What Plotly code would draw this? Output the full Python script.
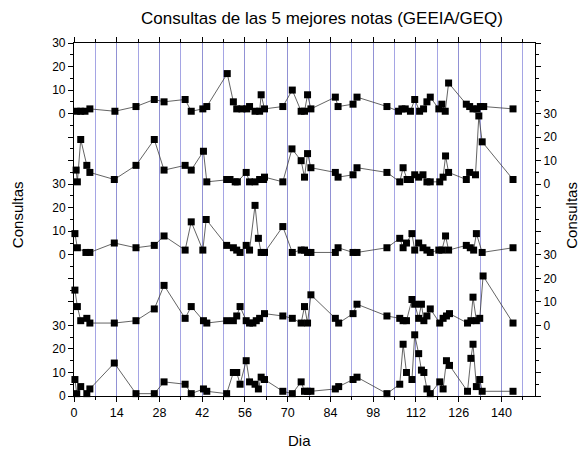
import plotly.graph_objects as go

# ---- data (day, consultas) for the 5 best-grade notes ----
x1 = [0.9, 2.2, 3.6, 5.2, 13.4, 20.3, 26.3, 29.5, 36.4, 38.4, 42.2, 43.5, 50.2, 52.2, 53.3, 55.0, 56.6, 57.5,
      59.3, 60.8, 61.3, 62.4, 68.4, 71.5, 74.4, 75.5, 76.5, 77.6, 85.6, 86.5, 91.4, 92.7, 102.5, 106.3, 107.4,
      108.5, 110.2, 111.6, 113.2, 114.5, 115.6, 116.7, 119.5, 120.5, 121.6, 122.7, 128.5, 129.6, 130.7, 132.0,
      133.1, 134.2, 143.8]
y1 = [1, 1, 1, 2, 1, 3, 6, 5, 6, 1, 2, 3, 17, 5, 2, 2, 2, 3,
      1, 1, 8, 2, 3, 10, 1, 1, 8, 2, 7, 3, 4, 7, 3, 1, 2,
      2, 1, 6, 1, 2, 5, 7, 2, 4, 1, 13, 4, 3, 2, 2,
      3, 3, 2]

x2 = [0.7, 1.1, 2.2, 4.2, 5.2, 13.2, 20.3, 26.3, 29.5, 36.4, 38.4, 42.4, 43.5, 50.0, 51.1, 52.8, 53.5, 56.4,
      57.5, 59.3, 60.8, 62.1, 62.4, 68.4, 71.4, 74.4, 75.5, 76.5, 77.6, 85.6, 86.5, 91.4, 92.7, 102.5, 106.7,
      107.8, 109.1, 110.2, 111.6, 112.9, 114.3, 115.6, 116.7, 119.8, 120.9, 121.7, 122.7, 128.5, 129.6, 131.5,
      132.6, 133.7, 143.8]
y2 = [6, 1, 19, 8, 5, 2, 8, 19, 6, 8, 6, 14, 1, 2, 2, 1, 1, 5,
      1, 1, 2, 2, 3, 1, 15, 10, 3, 13, 7, 5, 3, 4, 7, 5, 1,
      7, 2, 2, 4, 3, 4, 1, 1, 1, 3, 12, 5, 2, 5, 4,
      29, 18, 2]

x3 = [0.3, 1.1, 3.9, 5.2, 13.2, 20.3, 26.3, 29.5, 36.4, 38.4, 42.2, 43.3, 50.0, 52.2, 53.3, 54.4, 56.4, 57.5,
      59.3, 60.4, 61.3, 62.4, 68.4, 71.5, 74.4, 75.5, 76.5, 77.6, 85.6, 86.5, 91.4, 92.7, 102.5, 106.7, 107.8,
      108.9, 110.7, 111.6, 112.9, 114.3, 115.6, 116.7, 119.5, 120.5, 121.7, 122.7, 128.5, 129.8, 130.9, 131.8,
      133.7, 143.8]
y3 = [9, 3, 1, 1, 5, 3, 4, 8, 2, 14, 2, 15, 4, 3, 2, 1, 4, 2,
      21, 7, 1, 1, 12, 1, 2, 2, 1, 1, 1, 3, 1, 1, 3, 7, 3,
      5, 9, 2, 5, 3, 2, 1, 2, 2, 8, 2, 4, 3, 2, 9,
      1, 3]

x4 = [0.3, 1.1, 2.2, 4.2, 5.2, 13.2, 20.3, 26.3, 29.5, 36.4, 38.4, 42.4, 43.5, 50.0, 52.2, 53.3, 54.4, 56.4,
      57.5, 58.6, 59.7, 60.8, 62.4, 68.4, 71.5, 74.4, 75.5, 76.5, 77.6, 85.6, 86.7, 91.4, 92.7, 102.5, 106.7,
      107.8, 108.9, 110.7, 111.6, 112.9, 113.8, 114.6, 115.6, 116.7, 119.8, 120.9, 122.0, 123.0, 128.9, 130.0,
      130.7, 131.8, 132.9, 134.0, 143.8]
y4 = [15, 8, 2, 3, 1, 1, 2, 7, 17, 3, 8, 2, 1, 2, 2, 4, 8, 2,
      1, 1, 2, 3, 5, 4, 3, 1, 8, 1, 13, 3, 1, 5, 9, 4, 3,
      2, 2, 11, 9, 3, 9, 2, 4, 7, 1, 3, 4, 5, 1, 2,
      12, 2, 3, 21, 1]

x5 = [0.3, 0.9, 2.2, 4.2, 5.2, 13.2, 20.3, 26.3, 29.5, 36.4, 38.4, 42.4, 43.5, 50.0, 52.2, 53.3, 54.4, 56.4,
      57.5, 59.3, 60.4, 61.3, 62.4, 68.4, 71.5, 74.4, 75.5, 76.5, 77.6, 85.6, 86.7, 91.4, 92.7, 102.5, 106.7,
      107.8, 108.9, 110.7, 111.6, 112.9, 113.8, 114.6, 115.6, 116.7, 119.8, 120.9, 122.0, 123.0, 128.9, 130.0,
      130.7, 131.8, 132.9, 133.7, 143.8]
y5 = [7, 1, 4, 1, 3, 14, 1, 1, 6, 5, 1, 3, 2, 1, 10, 10, 5, 15,
      6, 5, 3, 8, 7, 2, 1, 6, 2, 2, 2, 3, 4, 7, 8, 1, 5,
      22, 10, 7, 26, 18, 11, 10, 3, 1, 6, 3, 15, 13, 2, 16,
      22, 4, 7, 2, 2]

series_x = [x1, x2, x3, x4, x5]
series_y = [y1, y2, y3, y4, y5]

x_ticks = [0, 14, 28, 42, 56, 70, 84, 98, 112, 126, 140]
panel_ticks = [0, 10, 20, 30]
panel_span = 30
n_panels = 5

FONT = "Liberation Sans, Arial, sans-serif"
GRID_MAJOR = "rgb(145,145,212)"
GRID_MINOR = "rgb(165,165,228)"

fig = go.Figure()
for i in range(n_panels):
    yname = "y" if i == 0 else f"y{i+1}"
    fig.add_trace(go.Scatter(
        x=series_x[i], y=series_y[i], yaxis=yname, mode="lines+markers",
        line=dict(color="rgb(60,60,60)", width=0.8),
        marker=dict(symbol="square", size=7, color="black"),
        showlegend=False, cliponaxis=False))

layout_axes = {}
for i in range(n_panels):
    below = n_panels - 1 - i            # panels below this one
    lo = -below * panel_span
    hi = (i + 1) * panel_span
    left = (i % 2 == 0)
    if left:
        extra = [-30, -20, -10] if below > 0 else []
        tv = extra + panel_ticks
        tt = [""] * len(extra) + [str(v) for v in panel_ticks]
    else:
        above = [40, 50, 60]
        extra_below = [-30, -20, -10] if i == n_panels - 2 else []
        tv = extra_below + panel_ticks + above
        tt = [""] * len(extra_below) + [str(v) for v in panel_ticks] + [""] * len(above)
    ax = dict(
        domain=[0, 1], range=[lo, hi], anchor="x",
        side="left" if left else "right",
        tickmode="array", tickvals=tv, ticktext=tt,
        ticks="outside", ticklen=5, tickwidth=1, tickcolor="black",
        showgrid=False, zeroline=False,
        showline=(i in (0, 1)), linecolor="black", linewidth=1.2,
        tickfont=dict(family=FONT, size=12, color="black"),
    )
    if i in (0, 1):
        ax["minor"] = dict(tickmode="linear", tick0=0, dtick=5, ticks="outside",
                           ticklen=3, tickcolor="black", showgrid=False)
    if i > 0:
        ax["overlaying"] = "y"
    key = "yaxis" if i == 0 else f"yaxis{i+1}"
    layout_axes[key] = ax

fig.update_layout(
    width=586, height=452,
    margin=dict(l=74, r=51, t=43, b=56),
    paper_bgcolor="white", plot_bgcolor="white",
    font=dict(family=FONT, size=12, color="black"),
    title=dict(text="Consultas de las 5 mejores notas (GEEIA/GEQ)", x=0.538, xref="paper",
               xanchor="center", y=1 - 18 / 452, yref="container", yanchor="middle",
               font=dict(family=FONT, size=17, color="black")),
    xaxis=dict(range=[0, 151], tickmode="array", tickvals=x_ticks,
               ticks="outside", ticklen=5, tickcolor="black",
               showline=True, linecolor="black", linewidth=1.2, mirror="ticks",
               showgrid=True, gridcolor=GRID_MAJOR, gridwidth=1, zeroline=False,
               minor=dict(tickmode="linear", tick0=7, dtick=14, ticks="outside", ticklen=3,
                          tickcolor="black", showgrid=True, gridcolor=GRID_MINOR, gridwidth=1),
               tickfont=dict(family=FONT, size=12.5, color="black")),
    **layout_axes,
    annotations=[
        dict(text="Dia", x=0.49, y=-0.125, xref="paper", yref="paper", showarrow=False,
             font=dict(family=FONT, size=15, color="black"), xanchor="center", yanchor="middle"),
        dict(text="Consultas", x=-0.121, y=0.513, xref="paper", yref="paper", showarrow=False,
             textangle=-90, font=dict(family=FONT, size=15, color="black"),
             xanchor="center", yanchor="middle"),
        dict(text="Consultas", x=1.080, y=0.513, xref="paper", yref="paper", showarrow=False,
             textangle=-90, font=dict(family=FONT, size=15, color="black"),
             xanchor="center", yanchor="middle"),
    ],
)

fig.write_html("out.html")
